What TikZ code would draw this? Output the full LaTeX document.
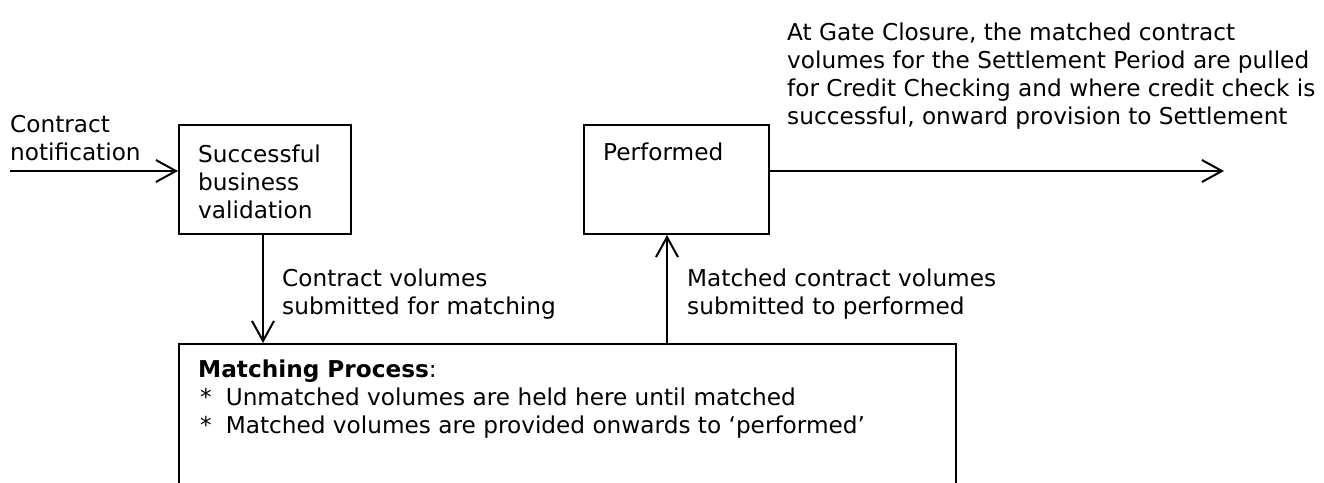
\documentclass[tikz,border=0pt]{standalone}
\usepackage{fontspec}
\setmainfont{DejaVu Sans}
\usetikzlibrary{arrows.meta}
\begin{document}
\begin{tikzpicture}[x=1pt,y=-1pt,
  font=\fontsize{23.2}{28}\selectfont,
  box/.style={draw, line width=2pt, inner sep=0pt, anchor=north west},
  lbl/.style={inner sep=0pt, anchor=base west, align=left},
  arr/.style={line width=2pt, -{Straight Barb[length=20pt,width=22pt,line width=2pt]}}]
\useasboundingbox (0,0) rectangle (1324,482);
% boxes
\node[box, minimum width=172pt, minimum height=109pt] (val) at (178,124) {};
\node[box, minimum width=185pt, minimum height=109pt] (perf) at (583,124) {};
\node[box, minimum width=777pt, minimum height=180pt] (match) at (178,343) {};
% texts in boxes (anchor = baseline of last line)
\node[lbl] (valtxt) at (198,218) {Successful\\business\\validation};
\node[lbl] (perftxt) at (603,160) {Performed};
\node[lbl] (matchtxt) at (198,433) {\textbf{Matching Process}:\\
  \hspace{2pt}*\hspace{14pt}Unmatched volumes are held here until matched\\
  \hspace{2pt}*\hspace{14pt}Matched volumes are provided onwards to ‘performed’};
% input
\coordinate (in) at (10,171);
\node[lbl] (intxt) at (10,160) {Contract\\notification};
\draw[arr] (in) -- (val.west |- in);
% output
\coordinate (out) at (1224,171);
\draw[arr] (perf.east |- out) -- (out);
\node[lbl] (outtxt) at (787,124) {At Gate Closure, the matched contract\\
  volumes for the Settlement Period are pulled\\
  for Credit Checking and where credit check is\\
  successful, onward provision to Settlement};
% vertical connectors
\coordinate (d) at (263,0);
\draw[arr] (val.south -| d) -- (match.north -| d);
\node[lbl] (dtxt) at (282,314) {Contract volumes\\submitted for matching};
\coordinate (u) at (667,0);
\draw[arr] (match.north -| u) -- (perf.south -| u);
\node[lbl] (utxt) at (687,314) {Matched contract volumes\\submitted to performed};
\end{tikzpicture}
\end{document}
